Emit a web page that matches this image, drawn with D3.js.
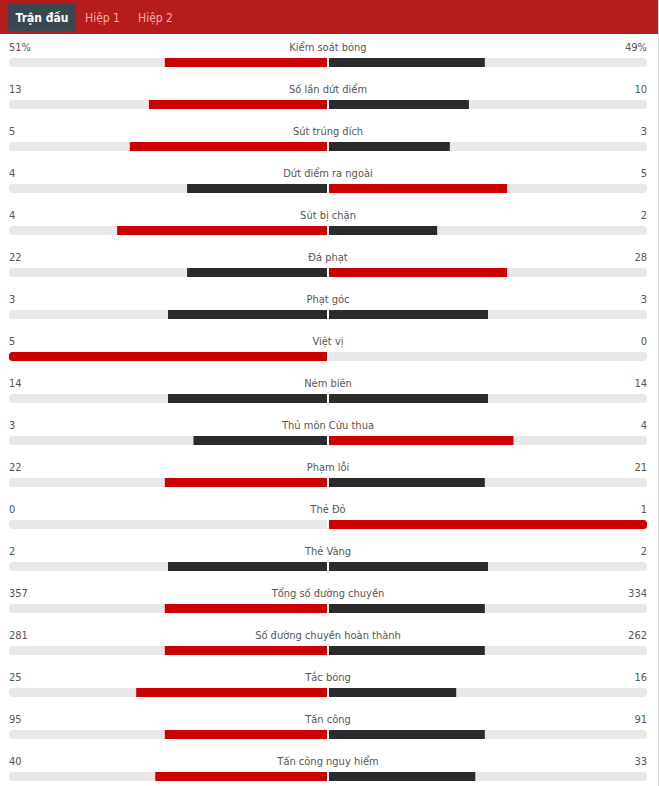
<!DOCTYPE html>
<html><head><meta charset="utf-8">
<script src="https://cdn.jsdelivr.net/npm/d3@7/dist/d3.min.js"></script>
<style>
html,body{margin:0;padding:0;background:#fff;}
svg{display:block;}
text{font-family:"DejaVu Sans Condensed","DejaVu Sans",Tahoma,sans-serif;}
</style></head>
<body>
<script>
const tabs = ["Trận đấu", "Hiệp 1", "Hiệp 2"];
const categories = ["Kiểm soát bóng","Số lần dứt điểm","Sút trúng đích","Dứt điểm ra ngoài","Sút bị chặn","Đá phạt","Phạt góc","Việt vị","Ném biên","Thủ môn Cứu thua","Phạm lỗi","Thẻ Đỏ","Thẻ Vàng","Tổng số đường chuyền","Số đường chuyền hoàn thành","Tắc bóng","Tấn công","Tấn công nguy hiểm"];
const homeValues = [51,13,5,4,4,22,3,5,14,3,22,0,2,357,281,25,95,40];
const awayValues = [49,10,3,5,2,28,3,0,14,4,21,1,2,334,262,16,91,33];
const suffixes = ["%","","","","","","","","","","","","","","","","",""];

const W = 659, H = 786;
const RED = "#cc0000", DARK = "#2b2b2b", TRACK = "#e8e8e8", TXT = "#555";
const left = 9, right = 647, center = 328, gap = 1;

const svg = d3.select("body").append("svg").attr("width", W).attr("height", H);

// header
svg.append("rect").attr("x",0).attr("y",0).attr("width",W).attr("height",34).attr("fill","#b71c1c");
svg.append("rect").attr("x",8).attr("y",3).attr("width",68).attr("height",28).attr("fill","#3b4750");
const tabX = [42, 102.5, 155.5];
svg.selectAll("text.tab").data(tabs).enter().append("text")
  .attr("class","tab")
  .attr("x",(d,i)=>tabX[i]).attr("y",22)
  .attr("text-anchor","middle")
  .attr("font-size",12)
  .attr("font-weight",(d,i)=>i===0?"bold":"normal")
  .attr("fill",(d,i)=>i===0?"#fff":"#f5b0b0")
  .text(d=>d);

// right border
svg.append("line").attr("x1",658.5).attr("x2",658.5).attr("y1",0).attr("y2",H).attr("stroke","#d8d8d8");

const rows = categories.map((c,i)=>({label:c, home:homeValues[i], away:awayValues[i], suf:suffixes[i]}));
const y = d3.scaleBand().domain(d3.range(rows.length)).range([37, 37 + 42*rows.length]);
const w = d3.scaleLinear().domain([0,100]).range([0, center - gap - left]);

const defs = svg.append("defs");
const cp = defs.append("clipPath").attr("id","tracks");
rows.forEach((d,i)=>{
  cp.append("rect").attr("x",left).attr("y",y(i)+21).attr("width",right-left).attr("height",9).attr("rx",3.5);
});

const g = svg.selectAll("g.row").data(rows).enter().append("g")
  .attr("class","row").attr("transform",(d,i)=>`translate(0,${y(i)})`);

g.append("text").attr("x",center).attr("y",14).attr("text-anchor","middle")
  .attr("font-size",11).attr("fill",TXT).text(d=>d.label);
g.append("text").attr("x",left).attr("y",14).attr("text-anchor","start")
  .attr("font-size",11).attr("fill",TXT).text(d=>d.home+d.suf);
g.append("text").attr("x",right).attr("y",14).attr("text-anchor","end")
  .attr("font-size",11).attr("fill",TXT).text(d=>d.away+d.suf);

const bars = svg.append("g").attr("clip-path","url(#tracks)");
rows.forEach((d,i)=>{
  const top = y(i)+21;
  const tot = d.home + d.away;
  const ph = tot ? Math.floor(100*d.home/tot) : 0;
  const pa = tot ? 100 - ph : 0;
  bars.append("rect").attr("x",left).attr("y",top).attr("width",right-left).attr("height",9).attr("fill",TRACK);
  const hc = d.home > d.away ? RED : DARK;
  const ac = d.away > d.home ? RED : DARK;
  bars.append("rect").attr("x",center-gap-w(ph)).attr("y",top).attr("width",w(ph)).attr("height",9).attr("fill",hc);
  bars.append("rect").attr("x",center+gap).attr("y",top).attr("width",w(pa)).attr("height",9).attr("fill",ac);
  bars.append("rect").attr("x",center-gap).attr("y",top).attr("width",2*gap).attr("height",9).attr("fill","#fff");
});
</script>
</body></html>
